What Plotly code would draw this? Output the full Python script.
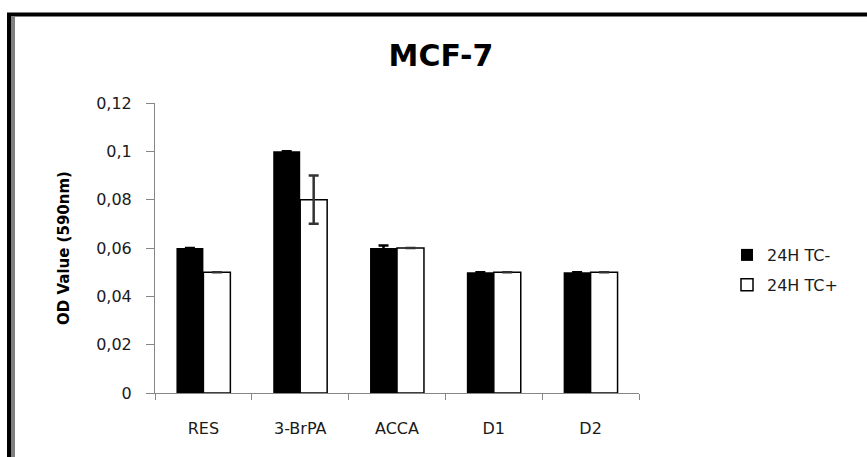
import plotly.graph_objects as go

# Treatments on the x axis
categories = ["RES", "3-BrPA", "ACCA", "D1", "D2"]

# Mean OD values (590 nm) for each condition
tc_minus = [0.06, 0.10, 0.06, 0.05, 0.05]
tc_plus = [0.05, 0.08, 0.06, 0.05, 0.05]

# Error bar half-lengths (None = no bar drawn)
tc_minus_err = [None, None, 0.001, None, None]
tc_plus_err = [None, 0.01, None, None, None]

series_names = ["24H TC-", "24H TC+"]
y_ticks = [0, 0.02, 0.04, 0.06, 0.08, 0.10, 0.12]

W, H = 867, 457
L, R, T, B = 155, 228, 103, 64
pw, ph = W - L - R, H - T - B


def px_x(x):
    return (x - L) / pw


def px_y(y):
    return (H - B - y) / ph


fig = go.Figure()
fig.add_trace(go.Bar(
    x=categories, y=tc_minus, name=series_names[0],
    marker=dict(color="black", line=dict(color="black", width=0)),
    error_y=dict(type="data", array=tc_minus_err, color="black",
                 thickness=2.5, width=5),
    legendgroup="a",
))
fig.add_trace(go.Bar(
    x=categories, y=tc_plus, name=series_names[1],
    marker=dict(color="white", line=dict(color="black", width=1.5)),
    error_y=dict(type="data", array=tc_plus_err, color="#333333",
                 thickness=2.5, width=5),
    legendgroup="b",
))

axis_col = "#868686"
fig.update_layout(
    width=W, height=H,
    margin=dict(l=L, r=R, t=T, b=B),
    paper_bgcolor="white", plot_bgcolor="white",
    separators=", ",
    barmode="group", bargap=0.443, bargroupgap=0,
    font=dict(family="DejaVu Sans", color="#1a1a1a"),
    title=dict(text="<b>MCF-7</b>", x=px_x(441), xref="paper", xanchor="center",
               y=1 - 55 / H, yanchor="middle",
               font=dict(family="DejaVu Sans", size=30, color="black")),
    xaxis=dict(showline=True, linecolor=axis_col, linewidth=1,
               ticks="outside", tickson="boundaries", ticklen=6,
               tickcolor=axis_col, tickfont=dict(size=16),
               ticklabelstandoff=21, showgrid=False, zeroline=False),
    yaxis=dict(range=[0, 0.12], tickvals=y_ticks, showline=True,
               linecolor=axis_col, linewidth=1, ticks="outside", ticklen=8,
               tickcolor=axis_col, tickfont=dict(size=16),
               ticklabelstandoff=11, showgrid=False, zeroline=False,
               title=dict(text="<b>OD Value (590nm)</b>", standoff=22,
                          font=dict(size=15, color="black"))),
    legend=dict(x=px_x(727), xanchor="left", y=px_y(270), yanchor="middle",
                font=dict(size=16), tracegroupgap=6, traceorder="grouped",
                bgcolor="rgba(0,0,0,0)"),
    showlegend=True,
)

# Outer frame of the chart area
fig.add_shape(type="rect", xref="paper", yref="paper",
              x0=px_x(9), x1=px_x(900), y0=px_y(500), y1=px_y(14.5),
              line=dict(color="black", width=4), fillcolor="rgba(0,0,0,0)")
fig.add_shape(type="line", xref="paper", yref="paper",
              x0=px_x(13), x1=px_x(13), y0=px_y(500), y1=px_y(16.5),
              line=dict(color="#808080", width=4))

fig.write_html("out.html")
